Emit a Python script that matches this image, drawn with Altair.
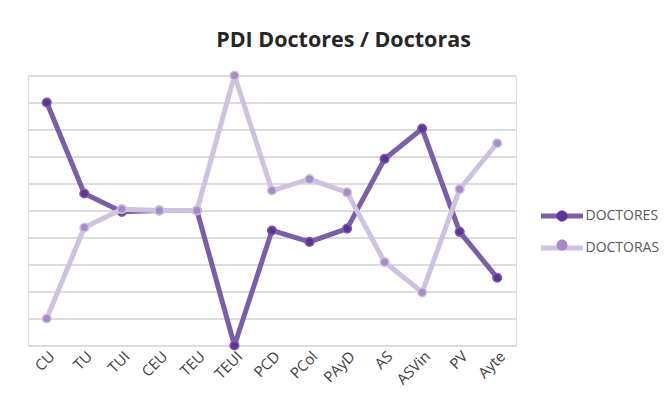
import altair as alt
import pandas as pd

categories = ["CU", "TU", "TUI", "CEU", "TEU", "TEUI", "PCD", "PCol", "PAyD", "AS", "ASVin", "PV", "Ayte"]
doctores = [90.0, 56.3, 49.5, 50.0, 50.0, 0.0, 42.6, 38.4, 43.3, 69.1, 80.3, 42.1, 25.1]
doctoras = [10.0, 43.7, 50.5, 50.0, 50.0, 100.0, 57.4, 61.6, 56.7, 30.9, 19.7, 57.9, 74.9]
series_names = ["DOCTORES", "DOCTORAS"]
line_colors = ["#7A5EA7", "#CEC3DE"]
marker_colors = ["#5E3594", "#A78BC6"]

rows = []
for name, vals in zip(series_names, [doctores, doctoras]):
    for c, v in zip(categories, vals):
        rows.append({"cat": c, "series": name, "value": v})
df = pd.DataFrame(rows)

FONT = "Open Sans"

x_enc = alt.X(
    "cat:N",
    sort=categories,
    scale=alt.Scale(type="point", padding=0.5),
    axis=alt.Axis(
        title=None, labelAngle=-45, labelFont=FONT, labelFontSize=15,
        labelColor="#404040", ticks=False, domain=False, grid=False, labelPadding=3,
    ),
)
y_enc = alt.Y(
    "value:Q",
    scale=alt.Scale(domain=[0, 100], nice=False, zero=True),
    axis=alt.Axis(
        title=None, labels=False, ticks=False, domain=False, grid=True,
        values=list(range(0, 101, 10)), gridColor="#DCDCDC", gridWidth=2,
    ),
)

stroke_scale = alt.Scale(domain=series_names, range=line_colors)
fill_scale = alt.Scale(range=marker_colors)

stroke_legend = alt.Legend(
    title=None, orient="none", legendX=521.5, legendY=128,
    symbolType="M-2.1,0H2.1", symbolSize=400, symbolStrokeWidth=5,
    labelOffset=11, labelFont=FONT, labelFontSize=14, labelColor="#595959",
    rowPadding=9, padding=0, zindex=1,
)
fill_legend = alt.Legend(
    title=None, orient="none", legendX=521.5, legendY=128,
    symbolType="M0.44,0A0.44,0.44,0,1,1,-0.44,0A0.44,0.44,0,1,1,0.44,0Z",
    symbolSize=625, symbolStrokeWidth=0, symbolStrokeColor="transparent",
    labelOffset=11, labelFont=FONT, labelFontSize=14, labelExpr="''",
    rowPadding=9, padding=0, zindex=2,
)

base = alt.Chart(df).encode(x=x_enc, y=y_enc)

layers = []
for i, name in enumerate(series_names):
    sub = base.transform_filter(alt.datum.series == name)
    line = sub.mark_line(strokeWidth=5, strokeJoin="round").encode(
        stroke=alt.Stroke("series:N", scale=stroke_scale, legend=stroke_legend)
    )
    pts = sub.mark_point(filled=True, size=75, strokeWidth=1.5, opacity=1).encode(
        fill=alt.Fill("series:N", scale=fill_scale, sort="descending", legend=fill_legend),
        stroke=alt.value(line_colors[i]),
    )
    layers += [line, pts]

chart = alt.layer(*layers).properties(
    width=488,
    height=270,
    padding={"left": 20, "top": 67.5, "right": 147, "bottom": 50.5},
    autosize=alt.AutoSizeParams(type="none"),
    title=alt.TitleParams(
        "PDI Doctores / Doctoras", font=FONT, fontSize=21.5, fontWeight="bold",
        color="#262626", anchor="middle", frame="group", dx=71.5,
        baseline="alphabetic", offset=0,
    ),
).configure_view(stroke=None).configure(background="white")

chart.save("out.html", embed_options={"renderer": "svg", "actions": False})
